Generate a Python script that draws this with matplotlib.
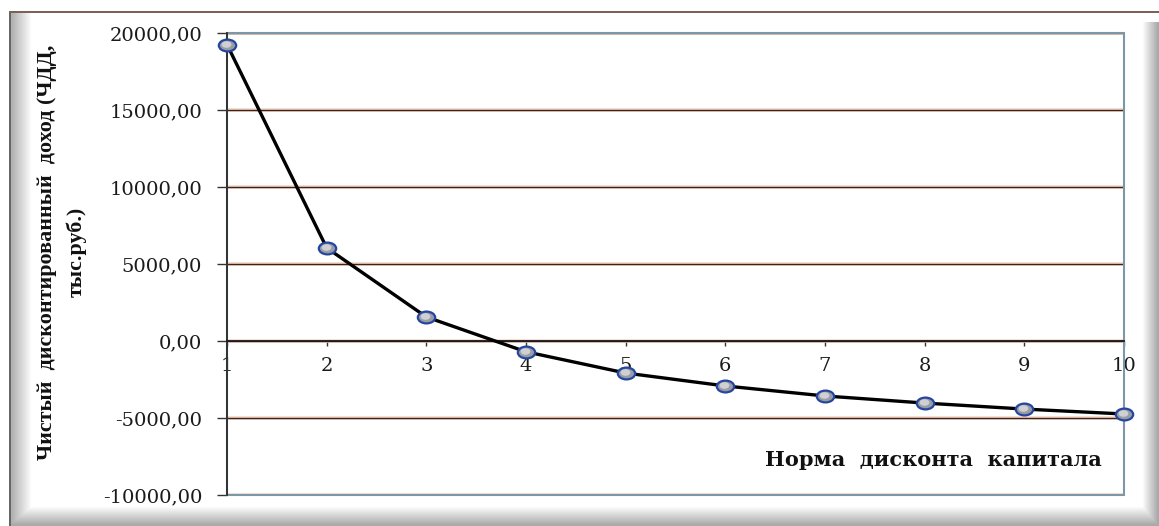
import numpy as np
import matplotlib
matplotlib.use("Agg")
import matplotlib.pyplot as plt
import matplotlib.patheffects as pe
from matplotlib.path import Path
from matplotlib.patches import Rectangle
from matplotlib.transforms import offset_copy

# ---- data ----
rates = [1, 2, 3, 4, 5, 6, 7, 8, 9, 10]
npv = [19250, 6050, 1560, -700, -2080, -2920, -3570, -4030, -4420, -4740]
y_ticks = [-10000, -5000, 0, 5000, 10000, 15000, 20000]
y_tick_labels = ["-10000,00", "-5000,00", "0,00", "5000,00", "10000,00", "15000,00", "20000,00"]
x_label = "Норма  дисконта  капитала"
y_label = "Чистый  дисконтированный  доход (ЧДД,\nтыс.руб.)"

W, H = 1159, 526
fig = plt.figure(figsize=(W / 100, H / 100), dpi=100)
fig.patch.set_facecolor("white")

# ---- bevelled outer frame (background image) ----
bg = fig.add_axes([0, 0, 1, 1], zorder=-10)
xx = np.arange(W)[None, :].repeat(H, 0)
yy = np.arange(H)[:, None].repeat(W, 1)
left = np.clip((31 - xx) / 19.0, 0, 1) * 0.30
left[:, :11] = 0
left[yy < 13] = 0
bot = np.clip((yy - 506) / 18.0, 0, 1) * 0.33
bot[:, :11] = 0
right = np.clip((xx - 1142) / 15.0, 0, 1) * 0.33
right[yy < 22] = 0
shade = np.maximum(np.maximum(left, bot), right)
img = np.ones((H, W, 3)) - shade[..., None] * np.array([1.0, 1.0, 0.98])
img[12:, 9:11] = [0.40, 0.40, 0.40]
img[11:13, 9:] = [0.50, 0.38, 0.34]
bg.imshow(img, extent=[0, W, H, 0], aspect="auto", interpolation="bilinear")
bg.set_xlim(0, W)
bg.set_ylim(H, 0)
bg.axis("off")

# ---- main plot ----
l, r, t, b = 227, 1124, 33, 495
ax = fig.add_axes([l / W, 1 - b / H, (r - l) / W, (b - t) / H])
ax.set_facecolor("white")
ax.set_xlim(1, 10)
ax.set_ylim(-10000, 20000)

ax.set_yticks(y_ticks)
ax.set_yticklabels(y_tick_labels)
ax.set_xticks(rates)
ax.set_xticklabels([str(v) for v in rates])

for s in ["top", "right"]:
    ax.spines[s].set_visible(False)
ax.spines["bottom"].set_position(("data", 0))
ax.spines["bottom"].set_color("#1a1a1a")
ax.spines["bottom"].set_linewidth(1.3)
ax.spines["left"].set_color("#2a2a2a")
ax.spines["left"].set_linewidth(1.3)
ax.add_patch(Rectangle((0, 0), 1, 1, transform=ax.transAxes, fill=False,
                       edgecolor="#7d97a6", lw=1.5, zorder=2.5, clip_on=False))

ax.grid(axis="y", color="#3a2418", lw=1.0, zorder=0)
for gl in ax.get_ygridlines():
    gl.set_path_effects([pe.Stroke(linewidth=2.6, foreground="#f7d6c8"), pe.Normal()])

ax.tick_params(axis="y", direction="out", length=7, width=1, color="#333333",
               pad=11, labelsize=14, labelcolor="#1a1a1a")
ax.tick_params(axis="x", direction="out", length=3.5, width=1, color="#333333",
               pad=8, labelsize=14, labelcolor="#1a1a1a")
for lab in ax.get_yticklabels() + ax.get_xticklabels():
    lab.set_fontfamily("DejaVu Serif")

# ellipse marker (spheres)
circ = Path.unit_circle()
ell = Path(circ.vertices * np.array([1.0, 0.68]), circ.codes)

ax.plot(rates, npv, color="black", lw=2.4, zorder=3, clip_on=False)
ax.plot(rates, npv, ls="none", marker=ell, markersize=12.5, markerfacecolor="#9a9ca3",
        markeredgecolor="#2446a0", markeredgewidth=1.6, zorder=4, clip_on=False)
hl = offset_copy(ax.transData, fig=fig, x=-1.0, y=1.0, units="dots")
ax.plot(rates, npv, ls="none", marker=ell, markersize=7, markerfacecolor="#cfd0d4",
        markeredgecolor="none", transform=hl, zorder=5, clip_on=False)

ax.text(0.975, 0.075, x_label, transform=ax.transAxes, ha="right", va="center",
        fontsize=15, fontweight="bold", family="DejaVu Serif", color="#111111")

fig.text(62 / W, 1 - 252 / H, y_label, rotation=90, ha="center", va="center",
         multialignment="center", fontsize=15.8, fontweight="bold",
         family="Liberation Serif", linespacing=1.55, color="#111111")

fig.savefig("out.png", dpi=100)
